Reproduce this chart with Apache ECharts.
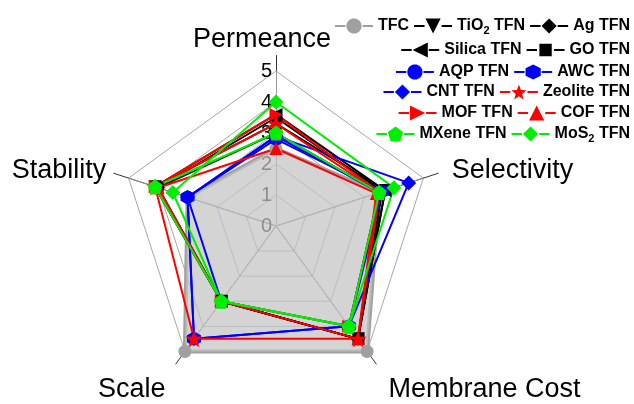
<!DOCTYPE html>
<html><head><meta charset="utf-8">
<script src="https://cdn.jsdelivr.net/npm/echarts@6/dist/echarts.min.js"></script>
<style>html,body{margin:0;padding:0;background:#fff}#c{width:634px;height:404px}</style>
</head><body><div id="c"></div>
<script>
// ---------- data ----------
const axisNames = ['Permeance', 'Stability', 'Scale', 'Membrane Cost', 'Selectivity'];
const tickLabels = ['0', '1', '2', '3', '4', '5'];
const seriesNames = ['TFC', 'TiO2 TFN', 'Ag TFN', 'Silica TFN', 'GO TFN', 'AQP TFN', 'AWC TFN',
  'CNT TFN', 'Zeolite TFN', 'MOF TFN', 'COF TFN', 'MXene TFN', 'MoS2 TFN'];
// values in order: Permeance, Stability, Scale, Membrane Cost, Selectivity
const TFC       = [2.5, 3.0, 5.0, 5.0, 3.5];
const TiO2TFN   = [3.3, 4.1, 3.0, 4.5, 3.7];
const AgTFN     = [3.5, 4.0, 3.0, 4.5, 3.6];
const SilicaTFN = [3.6, 4.1, 3.0, 4.5, 3.7];
const GOTFN     = [3.0, 4.0, 3.0, 4.5, 3.5];
const AQPTFN    = [2.9, 3.0, 4.5, 4.0, 3.5];
const AWCTFN    = [2.8, 3.0, 4.5, 4.0, 3.6];
const CNTTFN    = [2.9, 3.0, 3.0, 4.0, 4.5];
const ZeoliteTFN= [3.3, 4.1, 4.5, 4.5, 3.5];
const MOFTFN    = [3.6, 4.1, 3.0, 4.0, 3.5];
const COFTFN    = [2.5, 4.0, 3.0, 4.5, 3.4];
const MXeneTFN  = [3.0, 4.1, 3.0, 4.0, 3.5];
const MoS2TFN   = [4.0, 3.5, 3.0, 4.0, 4.0];
const seriesValues = [TFC, TiO2TFN, AgTFN, SilicaTFN, GOTFN, AQPTFN, AWCTFN, CNTTFN,
  ZeoliteTFN, MOFTFN, COFTFN, MXeneTFN, MoS2TFN];

// ---------- styles ----------
const colors = ['#a0a0a0', '#000', '#000', '#000', '#000', '#0000ff', '#0000ff', '#0000ff',
  '#ff0000', '#ff0000', '#ff0000', '#00ee00', '#00ee00'];
const shapes = ['circle', 'tdown', 'diamond', 'tleft', 'square', 'circle', 'hexagon', 'diamond',
  'star', 'tright', 'tup', 'pentagon', 'diamond'];
const sizes = [13, 13, 14, 13, 11, 13, 14, 15, 17, 13, 13, 15, 15];

function poly(n, r0, rot) { const p = []; for (let i = 0; i < n; i++) { const a = rot + i * 2 * Math.PI / n; p.push([Math.sin(a) * r0, -Math.cos(a) * r0]); } return p; }
function starPts() { const p = []; for (let i = 0; i < 10; i++) { const a = i * Math.PI / 5; const r = i % 2 ? 0.42 : 1; p.push([Math.sin(a) * r, -Math.cos(a) * r]); } return p; }
const shapePts = {
  circle: poly(28, 1, 0),
  tdown: [[0, 1], [1, -1], [-1, -1]],
  tup: [[0, -1], [1, 1], [-1, 1]],
  tleft: [[-1, 0], [1, -1], [1, 1]],
  tright: [[1, 0], [-1, -1], [-1, 1]],
  diamond: [[0, -1], [1, 0], [0, 1], [-1, 0]],
  square: [[-1, -1], [1, -1], [1, 1], [-1, 1]],
  hexagon: poly(6, 1, 0),
  pentagon: poly(5, 1, 0),
  star: starPts()
};
function norm(pts) {
  let x0 = 1e9, x1 = -1e9, y0 = 1e9, y1 = -1e9;
  pts.forEach(([x, y]) => { x0 = Math.min(x0, x); x1 = Math.max(x1, x); y0 = Math.min(y0, y); y1 = Math.max(y1, y); });
  return pts.map(([x, y]) => [(x - x0) / (x1 - x0) * 2 - 1, (y - y0) / (y1 - y0) * 2 - 1]);
}
function toPath(pts, cx, cy, s) {
  return pts.map(([x, y], i) => (i ? 'L' : 'M') + (cx + x * s).toFixed(2) + ',' + (cy + y * s).toFixed(2)).join(' ') + ' Z';
}
function symbolPath(shape) { return 'path://' + toPath(norm(shapePts[shape]), 10, 10, 10); }
function legendIcon(shape) {
  const k = shape === 'square' ? 6.5 : 8;
  return 'path://M0,0 L0,0 M0,16 L0,16 M0,7 L11,7 L11,9 L0,9 Z M29,7 L40,7 L40,9 L29,9 Z ' + toPath(norm(shapePts[shape]), 20, 8, k);
}

const displayNames = { 'TiO2 TFN': '{b|TiO}{s|2}{b| TFN}', 'MoS2 TFN': '{b|MoS}{s|2}{b| TFN}' };
const legendRows = [
  ['TFC', 'TiO2 TFN', 'Ag TFN'],
  ['Silica TFN', 'GO TFN'],
  ['AQP TFN', 'AWC TFN'],
  ['CNT TFN', 'Zeolite TFN'],
  ['MOF TFN', 'COF TFN'],
  ['MXene TFN', 'MoS2 TFN']
];
const legendTops = [18, 42, 64, 84, 105, 126];

const chart = echarts.init(document.getElementById('c'), null, { renderer: 'canvas' });
const FONT = 'Liberation Sans, Arial, sans-serif';

const series = seriesNames.map((name, i) => {
  const s = {
    type: 'radar', radarIndex: 1, name: name,
    symbol: shapes[i] === 'circle' ? 'circle' : symbolPath(shapes[i]),
    symbolSize: sizes[i],
    lineStyle: { color: colors[i], width: i === 0 ? 4 : 2 },
    itemStyle: { color: colors[i], borderWidth: 0 },
    data: [{ value: seriesValues[i], name: name }],
    emphasis: { disabled: true },
    silent: true
  };
  if (i === 0) s.areaStyle = { color: '#c4c4c4', opacity: 0.72 };
  return s;
});

const legends = legendRows.map((row, r) => ({
  right: 4, top: legendTops[r], orient: 'horizontal', padding: 0,
  itemWidth: 38, itemHeight: 16, itemGap: 5, selectedMode: false,
  itemStyle: { borderWidth: 0 },
  data: row.map(n => ({ name: n, icon: legendIcon(shapes[seriesNames.indexOf(n)]) })),
  formatter: n => displayNames[n] || ('{b|' + n + '}'),
  textStyle: {
    rich: {
      b: { fontSize: 16, fontWeight: 'bold', fontFamily: FONT, color: '#000', lineHeight: 20, verticalAlign: 'middle' },
      s: { fontSize: 11, fontWeight: 'bold', fontFamily: FONT, color: '#000', lineHeight: 11, verticalAlign: 'bottom' }
    }
  }
}));

const nameRich = {
  n0: { fontSize: 27, fontFamily: FONT, color: '#000', padding: [0, 28, 2, 0] },
  n1: { fontSize: 27, fontFamily: FONT, color: '#000', padding: [0, 7, 6, 0] },
  n2: { fontSize: 27, fontFamily: FONT, color: '#000', padding: [50, 10, 0, 0] },
  n3: { fontSize: 27, fontFamily: FONT, color: '#000', padding: [50, 0, 0, 12] },
  n4: { fontSize: 27, fontFamily: FONT, color: '#000', padding: [0, 0, 6, 13] }
};

chart.setOption({
  animation: false,
  backgroundColor: '#fff',
  legend: legends,
  radar: [
    {
      center: [276, 226], radius: 170.5, startAngle: 90, shape: 'polygon',
      indicator: axisNames.map(n => ({ name: n, min: 0, max: 5.5 })),
      axisName: { show: false },
      axisLine: { lineStyle: { color: '#333', width: 1 } },
      splitLine: { show: false }, splitArea: { show: false },
      axisLabel: { show: false }, axisTick: { show: false }
    },
    {
      center: [276, 226], radius: 155, startAngle: 90, shape: 'polygon', splitNumber: 5,
      indicator: axisNames.map((n, i) => i === 0 ? ({ name: n, min: 0, max: 5, axisLabel: { show: true } }) : ({ name: n, min: 0, max: 5 })),
      nameGap: 16,
      axisName: { color: '#000', fontSize: 27, fontFamily: FONT, rich: nameRich,
        formatter: name => '{n' + axisNames.indexOf(name) + '|' + name + '}' },
      axisLine: { lineStyle: { color: '#9a9a9a', width: 1 } },
      splitLine: { lineStyle: { color: '#a8a8a8', width: 1 } },
      splitArea: { show: false },
      axisTick: { show: false },
      axisLabel: { show: false, fontSize: 20, color: '#000', fontFamily: FONT, margin: 4, showMinLabel: true, showMaxLabel: true,
        formatter: v => tickLabels[Math.round(v)] }
    }
  ],
  series: series
});
</script></body></html>
